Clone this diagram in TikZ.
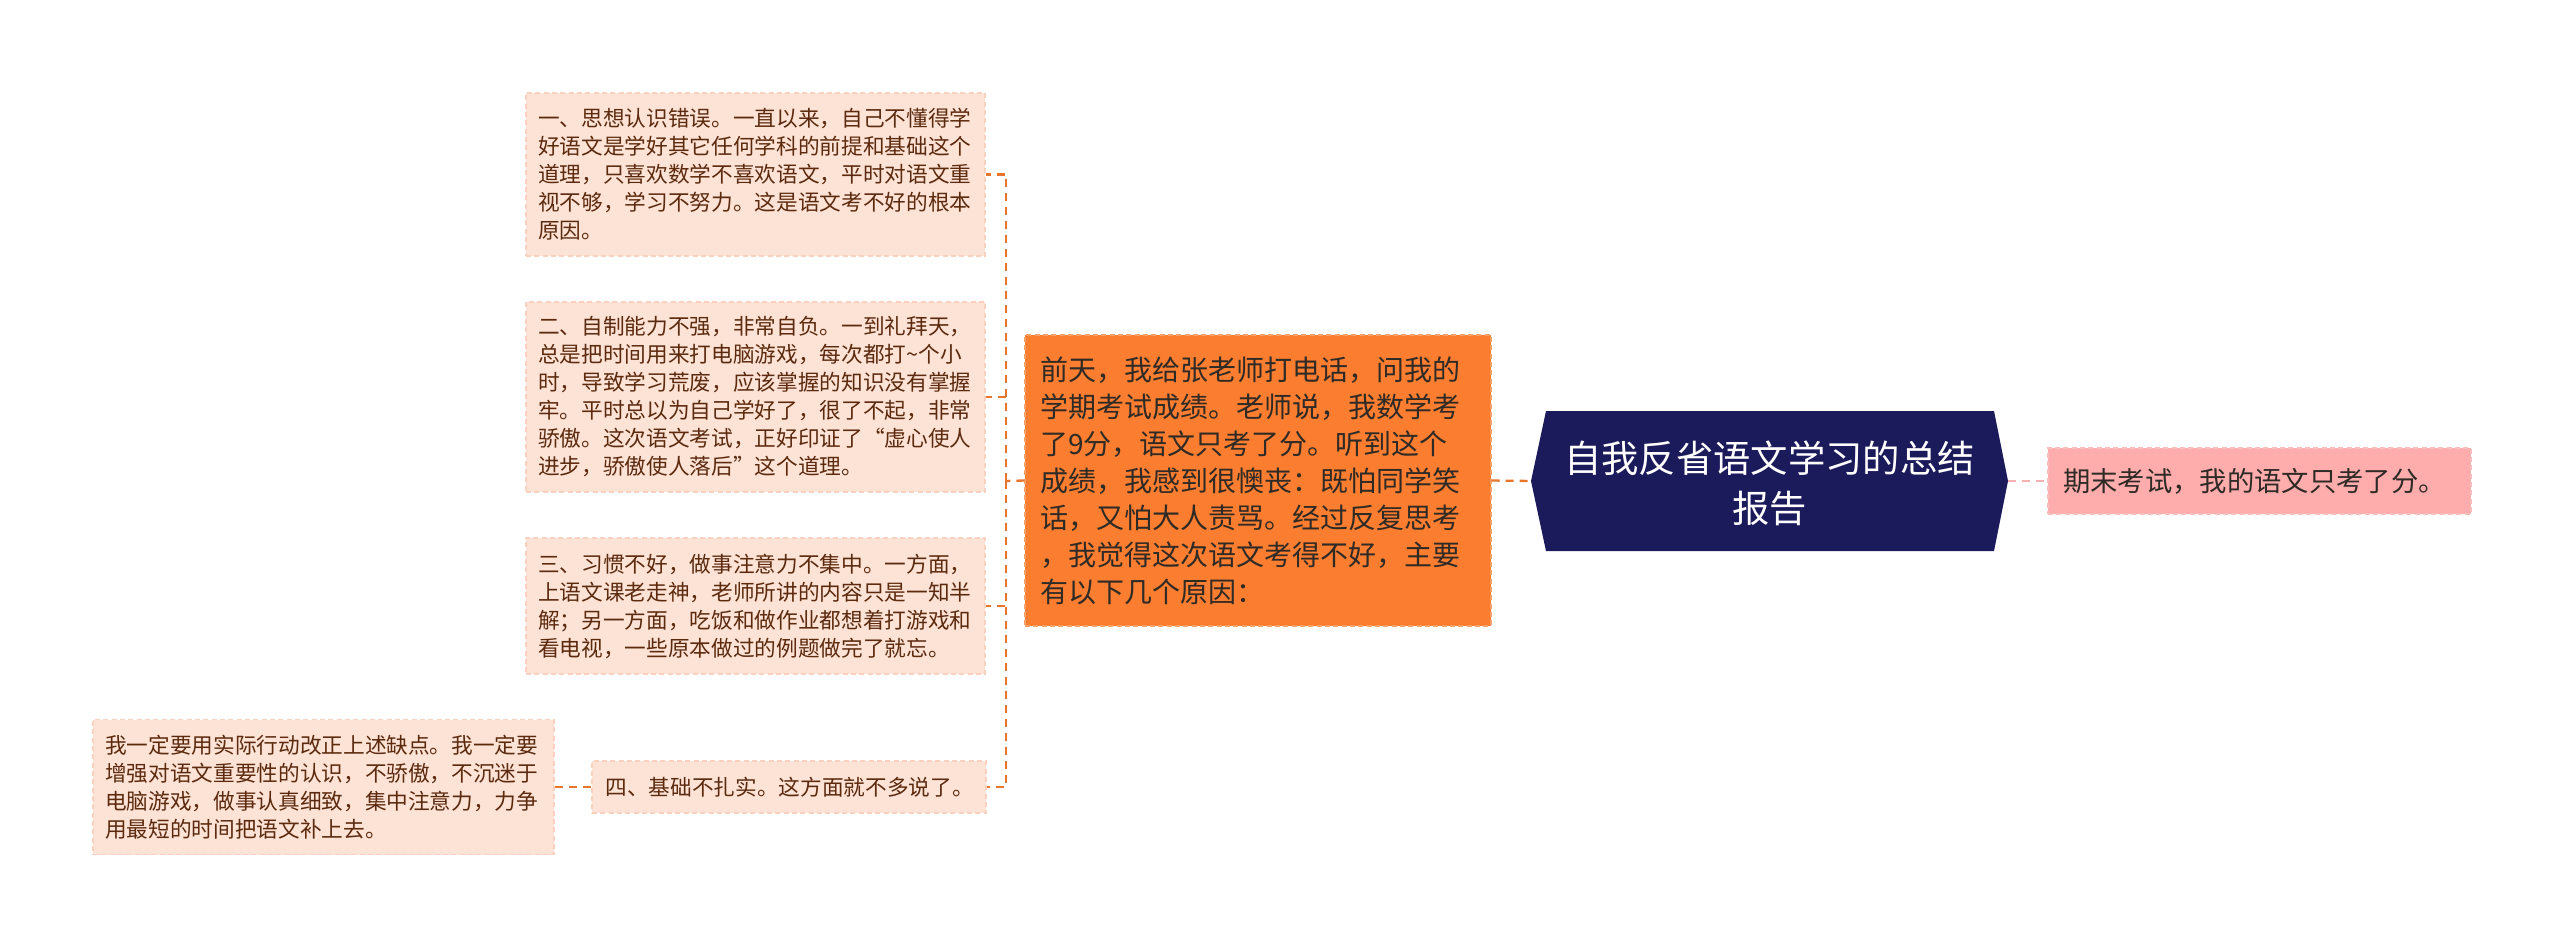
\documentclass[tikz,border=0pt]{standalone}
\usepackage{fontspec}
\setmainfont{Noto Sans CJK SC}
\definecolor{peach}{HTML}{FDE3D6}
\definecolor{peachline}{HTML}{F9D2BF}
\definecolor{brownt}{HTML}{5C2A0E}
\definecolor{orangebox}{HTML}{FA7D30}
\definecolor{orangeedge}{HTML}{F7A068}
\definecolor{orangeline}{HTML}{E9742C}
\definecolor{navy}{HTML}{1B1A5B}
\definecolor{pinkbox}{HTML}{FFACAC}
\definecolor{pinkline}{HTML}{F8BDBD}
\definecolor{pinkconn}{HTML}{F5B0B0}
\definecolor{darkt}{HTML}{2E2A26}
\begin{document}
\begin{tikzpicture}[x=0.3pt,y=-0.3pt,
  leaf/.style={fill=peach, draw=peachline, line width=0.4pt, dash pattern=on 1.5pt off 1pt,
    inner xsep=3.6pt, inner ysep=0pt, align=left, text=brownt,
    font=\fontsize{6.5pt}{8.4pt}\selectfont, anchor=center},
  mainbox/.style={fill=orangebox, draw=orangeedge, line width=0.4pt, dash pattern=on 1.5pt off 1pt,
    inner xsep=4.5pt, inner ysep=0pt, align=left, text=darkt,
    font=\fontsize{8.4pt}{11.1pt}\selectfont, anchor=center},
  pinkstyle/.style={fill=pinkbox, draw=pinkline, line width=0.4pt, dash pattern=on 1.5pt off 1pt,
    inner xsep=4.5pt, inner ysep=0pt, align=left, text=darkt,
    font=\fontsize{8.2pt}{10pt}\selectfont, anchor=center},
  conn/.style={draw=orangeline, line width=0.7pt, dash pattern=on 2.4pt off 1.8pt},
  pconn/.style={draw=pinkconn, line width=0.7pt, dash pattern=on 2.4pt off 1.8pt}
]
\useasboundingbox (0,0) rectangle (2560,948);

% root
\fill[navy] (1531,481) -- (1546,411) -- (1994,411) -- (2008,481) -- (1994,551) -- (1546,551) -- cycle;
\coordinate (rootW) at (1531,481);
\coordinate (rootE) at (2008,481);
\node[text=white, font=\fontsize{11.2pt}{15pt}\selectfont, align=center] (root) at (1769.5,483)
  {自我反省语文学习的总结\\报告};

% pink
\node[pinkstyle, text width=117.9pt, minimum height=19.8pt] (pink) at (2259.5,481)
  {期末考试，我的语文只考了分。};

% orange
\node[mainbox, text width=130.8pt, minimum height=87.3pt] (orange) at (1258,480.5)
  {前天，我给张老师打电话，问我的\\学期考试成绩。老师说，我数学考\\了9分，语文只考了分。听到这个\\成绩，我感到很懊丧：既怕同学笑\\话，又怕大人责骂。经过反复思考\\，我觉得这次语文考得不好，主要\\有以下几个原因：};

% leaves
\node[leaf, text width=130.5pt, minimum height=48.9pt] (b1) at (755.5,174.5)
  {一、思想认识错误。一直以来，自己不懂得学\\好语文是学好其它任何学科的前提和基础这个\\道理，只喜欢数学不喜欢语文，平时对语文重\\视不够，学习不努力。这是语文考不好的根本\\原因。};
\node[leaf, text width=130.5pt, minimum height=57pt] (b2) at (755.5,397)
  {二、自制能力不强，非常自负。一到礼拜天，\\总是把时间用来打电脑游戏，每次都打{\char`\~}个小\\时，导致学习荒废，应该掌握的知识没有掌握\\牢。平时总以为自己学好了，很了不起，非常\\骄傲。这次语文考试，正好印证了“虚心使人\\进步，骄傲使人落后”这个道理。};
\node[leaf, text width=130.5pt, minimum height=40.8pt] (b3) at (755.5,606)
  {三、习惯不好，做事注意力不集中。一方面，\\上语文课老走神，老师所讲的内容只是一知半\\解；另一方面，吃饭和做作业都想着打游戏和\\看电视，一些原本做过的例题做完了就忘。};
\node[leaf, inner xsep=4pt, text width=110.2pt, minimum height=15.6pt] (b4) at (789,787)
  {四、基础不扎实。这方面就不多说了。};
\node[leaf, text width=131.1pt, minimum height=40.5pt] (b5) at (323.5,787)
  {我一定要用实际行动改正上述缺点。我一定要\\增强对语文重要性的认识，不骄傲，不沉迷于\\电脑游戏，做事认真细致，集中注意力，力争\\用最短的时间把语文补上去。};

% connectors
\draw[conn] (orange.east) -- (rootW);
\draw[pconn] (rootE) -- (pink.west);
\coordinate (j) at (1006,481);
\draw[conn] (orange.west) -- (j);
\draw[conn] (j) |- (b1.east);
\draw[conn] (j) |- (b2.east);
\draw[conn] (j) |- (b3.east);
\draw[conn] (j) |- (b4.east);
\draw[conn] (b4.west) -- (b5.east);
\end{tikzpicture}
\end{document}
